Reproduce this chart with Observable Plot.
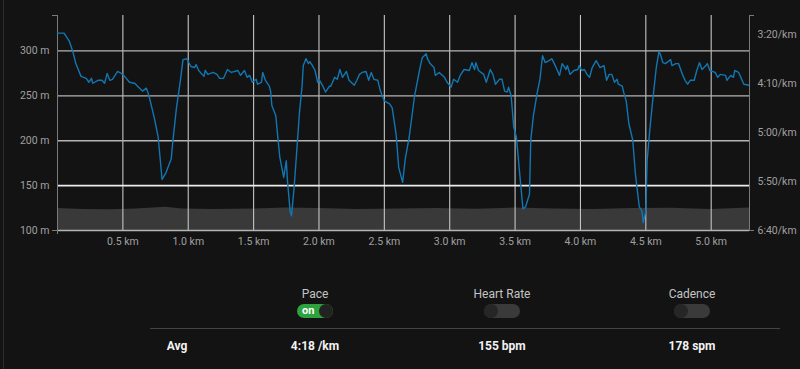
<!DOCTYPE html>
<html>
<head>
<meta charset="utf-8">
<script src="https://cdn.jsdelivr.net/npm/d3@7"></script>
<script src="https://cdn.jsdelivr.net/npm/@observablehq/plot@0.6"></script>
<style>
  html, body { margin: 0; padding: 0; background: #131313; width: 800px; height: 369px; overflow: hidden; font-family: Roboto, sans-serif; }
  #wrap { position: relative; width: 800px; height: 369px; }
  #chart { position: absolute; left: 0; top: 0; width: 800px; height: 255px; }
  #chart svg { position: absolute; left: 0; top: 0; }
  .edge { position: absolute; left: 3px; top: 0; width: 1px; height: 369px; background: #2c2c2c; }
  .lbl { position: absolute; transform: translateX(-50%); color: #c4c4c4; font-size: 12px; line-height: 12px; white-space: nowrap; }
  .val { position: absolute; transform: translateX(-50%); color: #f2f2f2; font-size: 12px; font-weight: 700; line-height: 12px; white-space: nowrap; }
  .tog { position: absolute; width: 36px; height: 14px; border-radius: 7px; background: #3a3a3a; }
  .tog .knob { position: absolute; top: 0; width: 14px; height: 14px; border-radius: 7px; background: #262626; }
  .tog.on { background: #2ea23c; }
  .tog.on .knob { right: 0; background: #222; }
  .tog.off .knob { left: 0; }
  .tog .txt { position: absolute; left: 5px; top: 1px; font-size: 11px; line-height: 12px; font-weight: 700; color: #fff; }
  .sep { position: absolute; left: 150px; top: 328px; width: 630px; height: 1px; background: #444; }
</style>
</head>
<body>
<div id="wrap">
  <div class="edge"></div>
  <div id="chart"></div>
  <div id="panel"></div>
</div>
<script>
// ---- data ----
const paceKm = [0.00,0.05,0.09,0.12,0.14,0.18,0.22,0.24,0.26,0.27,0.31,0.34,0.36,0.38,0.40,0.42,0.46,0.50,0.52,0.55,0.59,0.62,0.65,0.68,0.70,0.74,0.77,0.80,0.83,0.87,0.88,0.91,0.94,0.96,0.99,1.02,1.05,
1.06,1.08,1.12,1.13,1.15,1.19,1.22,1.24,1.27,1.30,1.33,1.38,1.40,1.43,1.45,1.47,1.49,1.52,1.53,1.56,1.57,1.59,1.62,1.63,1.64,1.67,1.68,1.70,1.73,1.75,1.76,1.78,1.79,1.81,1.83,1.85,1.87,1.88,1.90,1.92,1.93,1.95,1.97,1.99,2.00,2.03,2.05,2.08,
2.09,2.12,2.14,2.16,2.18,2.21,2.23,2.27,2.29,2.31,2.33,2.36,2.38,2.40,2.42,2.45,2.47,2.50,2.54,2.56,2.59,2.61,2.64,2.66,2.69,2.73,2.77,2.79,2.82,2.83,2.85,2.88,2.89,2.92,2.96,2.98,3.01,3.03,3.06,3.08,3.11,
3.15,3.17,3.19,3.20,3.22,3.26,3.28,3.31,3.33,3.35,3.38,3.40,3.42,3.44,3.45,3.47,3.49,3.51,3.54,3.56,3.58,3.61,3.62,3.64,3.67,3.69,3.71,3.73,3.76,3.78,3.80,3.82,3.84,3.86,3.89,3.90,3.92,3.95,3.98,3.99,4.01,4.03,4.05,4.07,4.09,4.12,4.15,
4.18,4.20,4.22,4.24,4.26,4.28,4.29,4.32,4.33,4.35,4.37,4.40,4.42,4.45,4.47,4.48,4.50,4.51,4.53,4.55,4.58,4.60,4.61,4.63,4.65,4.66,4.69,4.70,4.73,4.75,4.78,4.80,4.82,4.84,4.87,4.89,4.91,4.93,4.96,4.97,4.99,5.03,5.05,5.07,5.11,5.12,5.15,5.17,5.18,5.21,5.22,5.25,5.29];
// pace in seconds per km
const paceSec = [199,199,207,219,230,243,245,249,245,250,247,247,250,240,247,246,238,241,244,249,250,254,258,255,263,285,305,348,341,327,312,275,247,226,225,233,234,
231,237,243,237,241,239,241,245,245,236,239,237,242,237,244,242,249,246,251,249,239,247,253,258,273,283,298,325,346,329,351,381,385,356,319,281,254,232,225,230,228,232,237,249,246,253,259,253,
253,244,246,236,244,238,247,252,247,241,239,238,247,239,246,247,258,268,271,275,302,336,351,327,305,264,236,224,220,225,230,234,242,239,244,249,254,246,249,242,236,
237,229,236,229,237,241,249,236,241,251,246,246,258,259,254,263,295,305,349,378,376,363,308,283,259,246,222,229,227,225,230,236,242,230,236,232,241,237,236,232,237,236,241,244,234,227,234,
232,247,241,241,249,246,251,253,259,268,291,308,342,376,380,392,380,329,298,271,234,218,220,229,230,229,226,232,230,230,241,247,251,247,247,237,229,236,232,230,237,239,244,241,242,247,242,244,237,239,242,251,252];

const elevKm = [0,0.2,0.4,0.6,0.83,0.95,1.2,1.5,1.75,2.0,2.3,2.6,2.9,3.2,3.5,3.8,4.1,4.4,4.7,5.0,5.293];
const elevM  = [124.5,123.5,123.2,124,125.8,124,123.5,124,125,124.5,123.5,124,124.5,123.8,125,124,123.5,124.5,124.8,123.5,125];

const xTicks = [0.5,1.0,1.5,2.0,2.5,3.0,3.5,4.0,4.5,5.0];
const elevTicks = [100,150,200,250,300];
const paceTicks = [200,250,300,350,400];
const xDomain = [0, 5.293];
const elevDomain = [100, 339.5];
const paceDomain = [400, 181];

const toggles = ["Pace","Heart Rate","Cadence"];
const toggleOn = [true,false,false];
const avgValues = ["4:18 /km","155 bpm","178 spm"];
const columnX = [315, 502, 692];

// ---- build ----
const pace = paceKm.map((k,i) => ({km: k, s: paceSec[i]}));
const elev = elevKm.map((k,i) => ({km: k, m: elevM[i]}));
const fmtPace = s => `${Math.floor(s/60)}:${String(s%60).padStart(2,"0")}/km`;

const common = {
  width: 800, height: 255,
  marginLeft: 57, marginRight: 51, marginTop: 15, marginBottom: 25,
  style: {background: "transparent", color: "#a0a0a0", fontFamily: "Roboto, sans-serif", fontSize: "10.5px", overflow: "visible"}
};
const axisCol = "#7a7a7a";

const base = Plot.plot({
  ...common,
  x: {domain: xDomain},
  y: {domain: elevDomain},
  marks: [
    Plot.areaY(elev, {x: "km", y1: 100, y2: "m", fill: "#393939"}),
    Plot.ruleX(xTicks, {stroke: "#c4c4c4", strokeWidth: 1.1}),
    Plot.ruleY(elevTicks.filter(d => d !== 150), {stroke: "#b4b4b4", strokeWidth: 1.3}),
    Plot.ruleY([150], {stroke: "#ececec", strokeWidth: 1.7}),
    Plot.ruleX([0], {stroke: axisCol}),
    Plot.ruleY([elevDomain[0], elevDomain[1]], {x1: 0, x2: 0, insetLeft: -5, stroke: axisCol}),
    Plot.ruleX([0], {y1: 100, y2: 100, insetBottom: -4, stroke: axisCol}),
    Plot.axisX(xTicks, {tickSize: 0, tickPadding: 7, tickFormat: d => d.toFixed(1) + " km", label: null}),
    Plot.axisY(elevTicks, {tickSize: 0, tickPadding: 8, tickFormat: d => d + " m", label: null})
  ]
});

const over = Plot.plot({
  ...common,
  x: {domain: xDomain, axis: null},
  y: {domain: paceDomain},
  marks: [
    Plot.line(pace, {x: "km", y: "s", stroke: "#1176b2", strokeWidth: 1.4}),
    Plot.ruleX([xDomain[1]], {stroke: axisCol}),
    Plot.ruleY([paceDomain[0], paceDomain[1]], {x1: xDomain[1], x2: xDomain[1], insetRight: -5, stroke: axisCol}),
    Plot.axisY(paceTicks, {anchor: "right", tickSize: 0, tickPadding: 8, tickFormat: fmtPace, label: null})
  ]
});

document.getElementById("chart").append(base, over);

// ---- bottom panel ----
const panel = document.getElementById("panel");
let html = `<div class="sep"></div><div class="val" style="left:177px;top:340px">Avg</div>`;
toggles.forEach((t, i) => {
  const cx = columnX[i];
  html += `<div class="lbl" style="left:${cx}px;top:288px">${t}</div>`;
  html += toggleOn[i]
    ? `<div class="tog on" style="left:${cx-18}px;top:304px"><span class="txt">on</span><div class="knob"></div></div>`
    : `<div class="tog off" style="left:${cx-18}px;top:304px"><div class="knob"></div></div>`;
  html += `<div class="val" style="left:${cx}px;top:340px">${avgValues[i]}</div>`;
});
panel.innerHTML = html;
</script>
</body>
</html>
